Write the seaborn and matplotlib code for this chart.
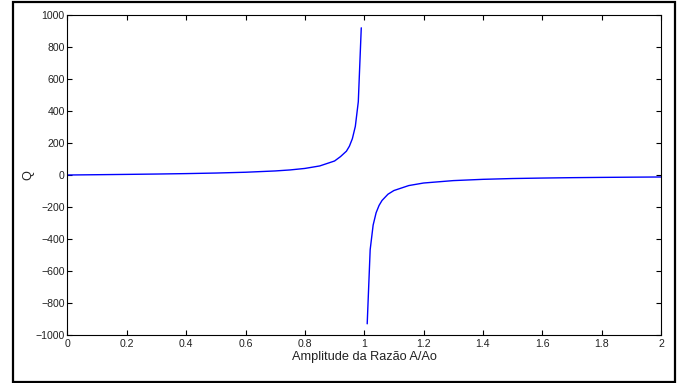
import numpy as np
import pandas as pd
import seaborn as sns
import matplotlib.pyplot as plt
from matplotlib.patches import Rectangle

# valores (ramo antes e depois da ressonância)
x_left = [0.0, 0.1, 0.2, 0.3, 0.4, 0.5, 0.6, 0.7, 0.75, 0.8, 0.85, 0.9,
          0.92, 0.94, 0.95, 0.96, 0.97, 0.98, 0.99]
q_left = [0.0, 1.9, 3.9, 6.1, 8.8, 12.3, 17.3, 25.4, 31.7, 41.1, 56.7, 87.6,
          115.0, 149.0, 180.0, 227.0, 304.0, 458.0, 920.0]

x_right = [1.01, 1.02, 1.03, 1.04, 1.05, 1.06, 1.08, 1.1, 1.15, 1.2, 1.3,
           1.4, 1.5, 1.6, 1.7, 1.8, 1.9, 2.0]
q_right = [-930.0, -467.0, -313.0, -236.0, -190.0, -159.0, -120.0, -97.0,
           -66.0, -50.0, -35.0, -27.0, -22.0, -19.0, -16.6, -14.9, -13.5, -12.3]

x_ticks = [0, 0.2, 0.4, 0.6, 0.8, 1.0, 1.2, 1.4, 1.6, 1.8, 2.0]
x_tick_labels = ['0', '0.2', '0.4', '0.6', '0.8', '1', '1.2', '1.4', '1.6', '1.8', '2']
y_ticks = [-1000, -800, -600, -400, -200, 0, 200, 400, 600, 800, 1000]

df_left = pd.DataFrame({'razao': x_left, 'Q': q_left})
df_right = pd.DataFrame({'razao': x_right, 'Q': q_right})

sns.set_style("white")
plt.rcParams['font.family'] = ['Liberation Sans', 'DejaVu Sans']

fig = plt.figure(figsize=(6.81, 3.83), dpi=100)
ax = fig.add_axes([0.0991, 0.1253, 0.8715, 0.8355])

sns.lineplot(x='razao', y='Q', data=df_left, ax=ax, color='#0000ff', linewidth=1.0)
sns.lineplot(x='razao', y='Q', data=df_right, ax=ax, color='#0000ff', linewidth=1.0)

ax.set_xlim(0, 2)
ax.set_ylim(-1000, 1000)
ax.set_xticks(x_ticks)
ax.set_xticklabels(x_tick_labels)
ax.set_yticks(y_ticks)
ax.tick_params(direction='in', length=3.5, width=0.8, labelsize=7.6,
               top=True, right=True, bottom=True, left=True, pad=3,
               colors='black', labelcolor='#222222')
ax.tick_params(axis='y', pad=2)
for s in ax.spines.values():
    s.set_color('black')
    s.set_linewidth(0.8)

ax.set_xlabel('Amplitude da Razão A/Ao', fontsize=9.2, labelpad=1.5, color='#222222')
ax.set_ylabel('Q', fontsize=9.2, labelpad=1, color='#222222')
ax.grid(False)

# moldura externa
fig.patches.append(Rectangle((13 / 681, 1.5 / 383), 662 / 681, 379.5 / 383,
                             transform=fig.transFigure, fill=False,
                             edgecolor='black', linewidth=1.6))

fig.savefig('out.png', dpi=100)
